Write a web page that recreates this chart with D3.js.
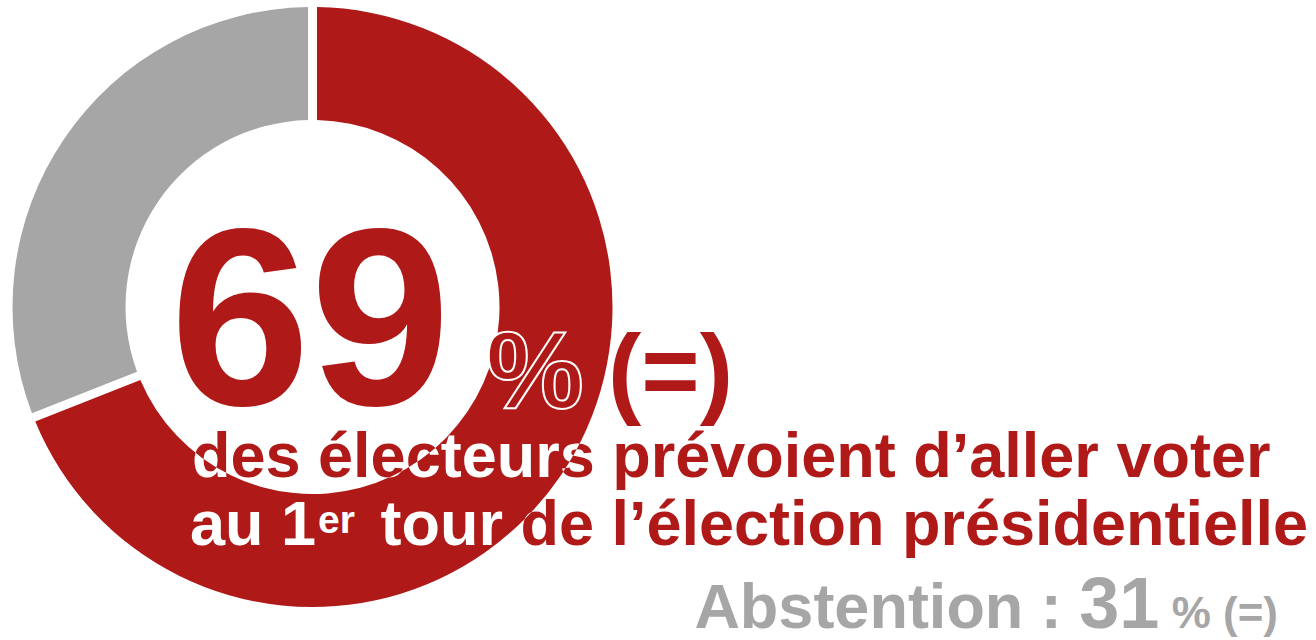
<!DOCTYPE html>
<html>
<head>
<meta charset="utf-8">
<script src="https://cdn.jsdelivr.net/npm/d3@7"></script>
<style>
  body { margin: 0; background: #fff; }
  svg { display: block; }
  text { font-family: "Liberation Sans", Arial, sans-serif; font-weight: bold; }
</style>
</head>
<body>
<script>
var width = 1316,
    height = 640,
    categories = ["Votants", "Abstention"],
    values = [69, 31],
    evolutions = ["(=)", "(=)"],
    colors = ["#AF1917", "#A6A6A6"];

var line1 = "des électeurs prévoient d’aller voter";

// svg
var svg = d3.select("body").append("svg")
    .attr("width", width)
    .attr("height", height);

var cx = 312.5, cy = 307,
    outerR = 300, innerR = 187;

var pie = d3.pie()
    .sort(null)
    .value(function(d){ return d; });

var arc = d3.arc()
    .innerRadius(innerR)
    .outerRadius(outerR)
    .padRadius(outerR)
    .padAngle(9 / outerR);

var arcs = pie(values);

var ring = svg.append("g")
    .attr("transform", "translate(" + cx + "," + cy + ")");

ring.selectAll("path")
    .data(arcs)
    .enter().append("path")
    .attr("d", arc)
    .style("fill", function(d, i){ return colors[i]; });

// clip = the red part of the ring, to turn the text white on it
svg.append("clipPath")
    .attr("id", "ringClip")
    .append("path")
    .attr("transform", "translate(" + cx + "," + cy + ")")
    .attr("d", arc(arcs[0]));

// big number
svg.append("text")
    .attr("x", 170)
    .attr("y", 405)
    .style("font-size", "252px")
    .style("fill", colors[0])
    .text(values[0]);

svg.append("text")
    .attr("x", 486)
    .attr("y", 408)
    .style("font-size", "110px")
    .style("fill", colors[0])
    .style("stroke", "#fff")
    .style("stroke-width", 2)
    .text("%");

svg.append("text")
    .attr("x", 608)
    .attr("y", 405)
    .style("font-size", "100px")
    .style("fill", colors[0])
    .text(evolutions[0]);

// two lines of caption, drawn red then white over the ring
function caption(g, fill) {
  g.append("text")
      .attr("x", 192)
      .attr("y", 477)
      .style("font-size", "63px")
      .style("fill", fill)
      .text(line1);

  var t = g.append("text")
      .attr("x", 190)
      .attr("y", 545)
      .style("font-size", "63px")
      .style("fill", fill);
  t.append("tspan").text("au 1");
  t.append("tspan")
      .attr("dx", 2)
      .attr("dy", -12)
      .style("font-size", "39px")
      .text("er");
  t.append("tspan")
      .attr("dx", 8)
      .attr("dy", 12)
      .text(" tour de l’élection présidentielle");
}

caption(svg.append("g"), colors[0]);
caption(svg.append("g").attr("clip-path", "url(#ringClip)"), "#fff");

// abstention line
var abst = svg.append("text")
    .attr("x", 1278)
    .attr("y", 628)
    .attr("text-anchor", "end")
    .style("fill", colors[1]);
abst.append("tspan")
    .style("font-size", "63px")
    .text(categories[1] + " : ");
abst.append("tspan")
    .style("font-size", "72px")
    .text(values[1]);
abst.append("tspan")
    .style("font-size", "44px")
    .text(" % " + evolutions[1]);
</script>
</body>
</html>
